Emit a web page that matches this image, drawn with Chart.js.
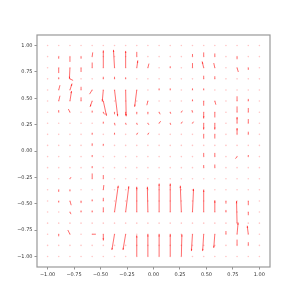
<!DOCTYPE html>
<html>
<head>
<meta charset="utf-8">
<script src="https://cdn.jsdelivr.net/npm/chart.js@4"></script>
<style>
  html, body { margin: 0; padding: 0; background: #fff; }
  #wrap { width: 300px; height: 300px; }
</style>
</head>
<body>
<div id="wrap"><canvas id="chart" width="300" height="300"></canvas></div>
<script>
// grid positions (x left->right, y top->bottom)
const xValues = [-1.0, -0.895, -0.789, -0.684, -0.579, -0.474, -0.368, -0.263, -0.158, -0.053,
                 0.053, 0.158, 0.263, 0.368, 0.474, 0.579, 0.684, 0.789, 0.895, 1.0];
const yValues = [1.0, 0.895, 0.789, 0.684, 0.579, 0.474, 0.368, 0.263, 0.158, 0.053,
                 -0.053, -0.158, -0.263, -0.368, -0.474, -0.579, -0.684, -0.789, -0.895, -1.0];
const tickValues = [-1.0, -0.75, -0.5, -0.25, 0, 0.25, 0.5, 0.75, 1.0];

// arrow components, one row per y value (top row first)
const U = [
  [0,0,0,0,0,0,0,0,0,0,0,0,0,0,0,0,0,0,0,0],
  [0,0,0,0,0.005,0,0,0,0,0,0,0,0,0,0,0,0,0,0,0],
  [0,0,-0.005,0,0,0,-0.01,0,0.01,0.01,0,0,0,0,-0.015,-0.01,0,0.012,0,0],
  [0,0,0.03,0,0,0,0,0,0,0,0,0,0,0,0,0,0,0,0,0],
  [0,0.012,0.02,0,-0.025,-0.01,0.03,0.005,-0.02,0,0,0,0,0,0,0,0,0,0,0],
  [0,0.012,0.015,0,-0.02,0.03,0,0,0,-0.01,0,0,0,0,0,0.01,0,0,0,0],
  [0,0,-0.015,0,0,0.01,0,0,0,0,0.01,0.005,0.01,-0.005,0,0,0,0,0,0],
  [0,0,0,0,0,0,0.005,0.005,0.005,0.01,0.015,0.005,0.01,0.01,0,0,0,0,0,0],
  [0,0,0,0,0,0,0,0,0.01,0.01,0,0,0,0,0,0,0,0,0,0],
  [0,0,0,0,0,0,0,0,0,0,0,0,0,0,0,0,0,0,0,0],
  [0,0,0,0,0,0,0,0,0,0,0,0,0,0,0,0,0,-0.015,0,0],
  [0,0,0,0,0,0,0,0,0,0,0,0,0,0,0,0,0,0,0,0],
  [0,0,0.01,0,0,0,0,0,0,0,0,0,0,0,0,0,0,0,0,0],
  [0,0,0,0,0,0.005,0,0,0,0,0,0,0,0,0,0,0,0,0,0],
  [0,0,0.012,0,0,0,0,0,0,0,0,0,0,0,0,0,0,0,0,0],
  [0,0,0.01,0,0,0,0.035,0.03,0,-0.005,0,0,-0.01,0.01,0,0,0,0,0,0],
  [0,0,0,0,0,0,0,0,0,0,0,0,0,0,0,0,0,-0.005,0,0],
  [0,0,-0.02,0,0.035,0,-0.025,-0.025,0,0,0,0,0,-0.01,-0.01,-0.01,0,0.01,-0.01,0],
  [0,0,0,0,0,0,0,0,0,0,0,0,0,0,0,0,0,0,0,0],
  [0,0,0,0,0,0,0,0,0,0,0,0,0.005,0,0,0,0,0,0,0]
];
const V = [
  [0,0,0,0,0,0,0,0,0,0,0,0,0,0,0,0,0,0,0,0],
  [0,-0.02,-0.05,-0.02,0.04,0,0,0,0.045,0.01,0,0,0,0.025,0.04,0.03,0,-0.025,-0.01,0],
  [0,-0.05,-0.105,-0.04,0.05,0.165,0.17,0.16,0.07,0.04,0,0.015,0.01,0.045,0.06,0.045,0,-0.04,-0.02,0],
  [0,0.015,-0.015,0.01,0,0.02,0.02,0.015,0.01,0,0,0,0,0.01,0.03,0.025,0,0.01,0.01,0],
  [0,0.045,0.06,0.03,-0.04,-0.11,-0.25,-0.25,-0.16,0.01,0.015,0.015,0,0.015,0.015,0.01,0,0.01,0.005,0],
  [0,0.05,0.095,0.035,-0.055,-0.14,0,0,0,-0.04,-0.01,0.01,0.01,0.015,-0.045,-0.035,0,0.045,0.02,0],
  [0,0.02,0.03,0.01,0.015,-0.02,-0.02,-0.03,-0.02,-0.02,-0.02,-0.015,0.015,0.02,-0.06,-0.05,0,0.055,0.04,0],
  [0,0,0.01,0.01,0,0.015,-0.02,-0.015,-0.015,-0.015,0.02,-0.015,0.015,0.015,-0.06,-0.06,0,0.06,0.04,0],
  [0,0,0,0,0.015,0.01,0.015,0.01,0.015,0.015,0.01,0,0,0.01,-0.04,-0.04,0,0.06,0.025,0],
  [0,0,0,0,0.02,0.015,0,0,0,0,0,0,0,0,0.01,0,0,0.01,0.005,0],
  [0,0,0,0,0.015,0,0,0,0,0,0,0,0,0,0.035,0.035,0,-0.02,0.015,0],
  [0,0,0,0,0.015,0.01,0.01,0,0,0,0,0,0,0,0.025,0.03,0,-0.01,0.01,0],
  [0,0.01,0.015,0.01,0.05,0.035,0.01,0.01,0.01,0.01,0.01,0.01,0.01,0.01,0.01,0,0,0.01,0,0],
  [0,-0.02,-0.015,0,0.01,0.045,0,0,0,0,0,0,0,0,0,0.01,0,0.01,0,0],
  [0,-0.015,-0.04,-0.02,0.015,0.03,0,0,0,0,0,0,0,0,0,0,-0.025,0,-0.04,0],
  [0,0.01,-0.02,0.015,0.015,0.045,0.25,0.245,0.24,0.24,0.27,0.27,0.25,0.22,0.21,0.11,0.02,0,-0.03,0],
  [0,0.01,0.01,0,0,0,0.01,0,0.01,0.01,0.01,0.01,0.01,0.01,0.01,0.01,0,0.21,0,0],
  [0,-0.02,0.04,0.01,0,-0.06,-0.15,-0.15,0,0,0,0,0,-0.16,-0.16,-0.13,0.03,0.11,0.08,0],
  [0,0.01,0.01,0,0.01,0.01,0,0,0,0,0,0,0,0,0,0,0.01,0.055,0.03,0],
  [0,0,0,0,0,0,0,0,0.2,0.21,0.21,0.21,0.21,0,0,0,0,0,0,0]
];

const points = [];
yValues.forEach((y, j) => {
  xValues.forEach((x, i) => {
    points.push({ x: x, y: y, u: U[j][i], v: V[j][i] });
  });
});

function fmt(v) {
  const s = Math.abs(v).toFixed(2);
  return v < 0 ? '\u2212' + s : s;
}

// quiver arrows drawn from the dataset points through the scales
const arrows = {
  id: 'arrows',
  afterDatasetsDraw(chart) {
    const ctx = chart.ctx;
    const xs = chart.scales.x, ys = chart.scales.y;
    ctx.save();
    ctx.strokeStyle = 'rgba(255,0,0,0.72)';
    ctx.fillStyle = 'rgba(255,0,0,0.6)';
    ctx.lineWidth = 0.8;
    chart.data.datasets[0].data.forEach(p => {
      if (!p.u && !p.v) return;
      const x0 = xs.getPixelForValue(p.x), y0 = ys.getPixelForValue(p.y);
      const x1 = xs.getPixelForValue(p.x + p.u), y1 = ys.getPixelForValue(p.y + p.v);
      const len = Math.hypot(x1 - x0, y1 - y0);
      if (len < 1.2) return;
      ctx.beginPath();
      ctx.moveTo(x0, y0);
      ctx.lineTo(x1, y1);
      ctx.stroke();
      if (len > 6) {
        const ux = (x1 - x0) / len, uy = (y1 - y0) / len;
        const hl = 2.2, hw = 0.8;
        ctx.beginPath();
        ctx.moveTo(x1, y1);
        ctx.lineTo(x1 - ux * hl - uy * hw, y1 - uy * hl + ux * hw);
        ctx.lineTo(x1 - ux * hl + uy * hw, y1 - uy * hl - ux * hw);
        ctx.closePath();
        ctx.fill();
      }
    });
    ctx.restore();
  }
};

const frame = {
  id: 'frame',
  afterDraw(chart) {
    const a = chart.chartArea, ctx = chart.ctx;
    ctx.save();
    ctx.strokeStyle = '#999';
    ctx.lineWidth = 1.2;
    ctx.strokeRect(a.left, a.top, a.right - a.left, a.bottom - a.top);
    ctx.restore();
  }
};

function axisOpts(size) {
  return {
    type: 'linear',
    min: -1.1,
    max: 1.1,
    afterBuildTicks: s => { s.ticks = tickValues.map(v => ({ value: v })); },
    afterFit: s => { if (s.isHorizontal()) s.height = size; else s.width = size; },
    ticks: {
      autoSkip: false,
      maxRotation: 0,
      padding: 2,
      color: '#333',
      font: { family: 'DejaVu Sans', size: 5 },
      callback: v => fmt(v)
    },
    grid: { drawOnChartArea: false, tickLength: 2.5, color: '#666', lineWidth: 0.7 },
    border: { display: false }
  };
}

new Chart(document.getElementById('chart').getContext('2d'), {
  type: 'scatter',
  data: {
    datasets: [{
      data: points,
      pointRadius: 0.8,
      pointBorderWidth: 0,
      pointBackgroundColor: 'rgba(255,90,90,0.35)'
    }]
  },
  options: {
    responsive: false,
    animation: false,
    devicePixelRatio: 1,
    layout: { padding: { left: 0, right: 30, top: 35, bottom: 0 } },
    plugins: { legend: { display: false }, tooltip: { enabled: false } },
    scales: { x: axisOpts(33), y: axisOpts(37) }
  },
  plugins: [arrows, frame]
});
</script>
</body>
</html>
